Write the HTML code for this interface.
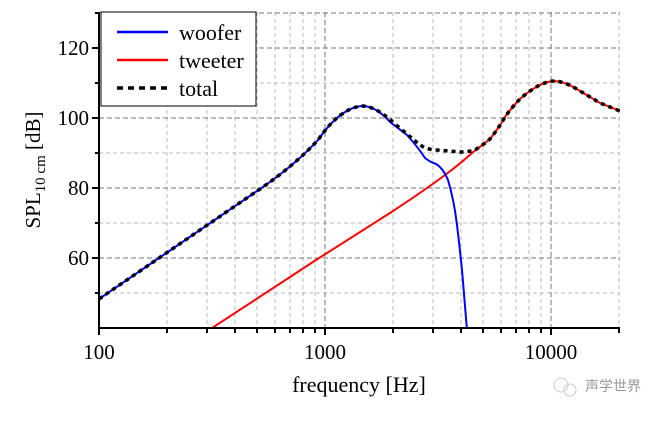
<!DOCTYPE html>
<html><head><meta charset="utf-8"><style>
body{margin:0;background:#fff;}
svg text{font-family:"Liberation Serif",serif;fill:#000;}
</style></head><body>
<svg width="670" height="416" viewBox="0 0 670 416" xmlns="http://www.w3.org/2000/svg">
<defs><clipPath id="c"><rect x="99" y="12" width="521" height="316"/></clipPath></defs>
<g stroke="#bbb" stroke-dasharray="4,3" stroke-width="1" fill="none">
<path d="M167 12V328M207 12V328M235 12V328M257 12V328M275 12V328M290 12V328M303 12V328M315 12V328
M393 12V328M433 12V328M461 12V328M483 12V328M501 12V328M516 12V328M529 12V328M541 12V328
M619 12V328
M99 83H620M99 153H620M99 223H620M99 293H620"/>
</g>
<g stroke="#777" stroke-dasharray="5,3" stroke-width="1" fill="none">
<path d="M325 12V328M551 12V328M99 48H620M99 118H620M99 188H620M99 258H620M99 13H620"/>
</g>
<g clip-path="url(#c)" fill="none" stroke-width="2">
<path stroke="#ff0000" d="M212 328 L316 260 L390 213 Q425 190 445 175 Q460 164 472 153 L490 139 Q498 129 505 117 Q512 107 520 99 Q530 90 540 85 Q548 81 555 81 Q565 82 575 88 L600 103 L620 111"/>
<path stroke="#0000ff" d="M99 299 L260 189 Q295 165 318 140 Q340 108 362 106 Q376 106 390 122 Q398 128 407 135 Q417 146 425 158 Q430 162 436 164 Q443 168 448 180 Q454 200 457 225 Q460 250 462 270 L467 330"/>
<path stroke="#000" stroke-width="3.5" stroke-dasharray="4,4" d="M99 299 L260 189 Q295 165 318 140 Q340 108 362 106 Q376 106 395 124 Q408 135 420 145 Q428 150 437 150 L460 152 Q468 152 475 150 Q483 145 490 139 Q498 129 505 117 Q512 107 520 99 Q530 90 540 85 Q548 81 555 81 Q565 82 575 88 L600 103 L620 111"/>
</g>
<g stroke="#000" stroke-width="2" fill="none">
<path d="M99 12V329M98 328H620"/>
<path d="M92 48H99M92 118H99M92 188H99M92 258H99M95 83H99M95 153H99M95 223H99M95 293H99M95 13H99"/>
<path d="M99 328v7M325 328v7M551 328v7M167 328v5M207 328v5M235 328v5M257 328v5M275 328v5M290 328v5M303 328v5M315 328v5M393 328v5M433 328v5M461 328v5M483 328v5M501 328v5M516 328v5M529 328v5M541 328v5M619 328v5"/>
</g>
<rect x="101" y="12" width="155" height="94" fill="#fff" stroke="#000" stroke-width="1"/>
<line x1="117" y1="32" x2="168" y2="32" stroke="#0000ff" stroke-width="2.5"/>
<line x1="117" y1="60" x2="168" y2="60" stroke="#ff0000" stroke-width="2.5"/>
<line x1="117" y1="88" x2="168" y2="88" stroke="#000" stroke-width="3.5" stroke-dasharray="6,5"/>
<text x="179" y="40" font-size="22">woofer</text>
<text x="179" y="68" font-size="22">tweeter</text>
<text x="179" y="96" font-size="22">total</text>
<g font-size="21" text-anchor="end">
<text x="89" y="55">120</text><text x="89" y="125">100</text><text x="89" y="195">80</text><text x="89" y="265">60</text>
</g>
<g font-size="21" text-anchor="middle">
<text x="99" y="359">100</text><text x="325" y="359">1000</text><text x="551" y="359">10000</text>
<text x="359" y="392" font-size="22">frequency [Hz]</text>
</g>
<text transform="translate(40,170) rotate(-90)" font-size="21" text-anchor="middle">SPL<tspan font-size="15" dy="5">10 cm</tspan><tspan dy="-5"> [dB]</tspan></text>
<circle cx="561" cy="385" r="7" fill="none" stroke="#ccc"/>
<circle cx="570" cy="390" r="6" fill="none" stroke="#ccc"/>
<text x="585" y="391" font-size="14" style="font-family:'Noto Sans CJK SC',sans-serif;fill:#999">声学世界</text>
</svg>
</body></html>
